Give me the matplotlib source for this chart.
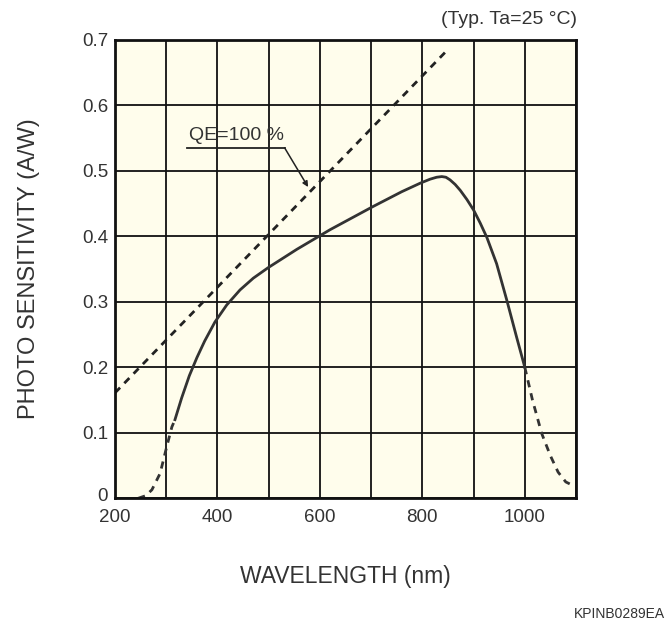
import numpy as np
import matplotlib.pyplot as plt
import matplotlib.transforms as mtransforms

plt.rcParams['font.family'] = ['Liberation Sans', 'DejaVu Sans']

# QE = 100 % reference line
qe_wl = [200, 845]
qe_sens = [0.161, 0.681]

# photo sensitivity, measured (solid) part
solid_wl = [317, 330, 345, 360, 375, 395, 418, 444, 470, 499, 555, 620, 703, 760, 796, 815, 828, 838, 846, 854, 864, 874, 887, 900, 913, 926, 945, 965, 984, 1000]
solid_sens = [0.120, 0.153, 0.187, 0.215, 0.240, 0.269, 0.295, 0.318, 0.336, 0.352, 0.380, 0.410, 0.445, 0.468, 0.481, 0.487, 0.490, 0.491, 0.490, 0.486, 0.479, 0.470, 0.456, 0.440, 0.420, 0.398, 0.358, 0.302, 0.246, 0.200]

# extrapolated (dashed) tails
low_wl = [245, 260, 272, 288, 301, 311, 317]
low_sens = [0.0, 0.004, 0.013, 0.038, 0.079, 0.109, 0.120]
high_wl = [1000, 1015, 1033, 1050, 1065, 1080, 1098]
high_sens = [0.200, 0.150, 0.099, 0.065, 0.040, 0.025, 0.018]

xticks = [200, 400, 600, 800, 1000]
yticks = [0, 0.1, 0.2, 0.3, 0.4, 0.5, 0.6, 0.7]
ytick_labels = ['0', '0.1', '0.2', '0.3', '0.4', '0.5', '0.6', '0.7']

fig = plt.figure(figsize=(6.68, 6.25), dpi=100)
ax = fig.add_axes([0.1722, 0.2027, 0.6901, 0.7339])
ax.set_facecolor('#fffdec')

ax.set_xlim(200, 1100)
ax.set_ylim(0, 0.7)
ax.set_xticks(np.arange(200, 1101, 100))
ax.set_xticklabels([str(t) if t in xticks else '' for t in range(200, 1101, 100)])
ax.set_yticks(yticks)
ax.set_yticklabels(ytick_labels)
ax.grid(True, color='#111111', linewidth=1.3)
ax.set_axisbelow(True)
ax.tick_params(length=0, labelsize=13.5, colors='#333333')
ax.tick_params(axis='x', pad=8)
ax.tick_params(axis='y', pad=5)
for s in ax.spines.values():
    s.set_linewidth(2)
    s.set_color('#111111')

# lift the "0" label a little so it clears "200", as in the original
zero_lbl = ax.get_yticklabels()[0]
zero_lbl.set_transform(zero_lbl.get_transform() +
                       mtransforms.ScaledTranslation(0, 4 / 100, fig.dpi_scale_trans))

dash = (0, (2.6, 2.2))
ax.plot(qe_wl, qe_sens, color='#222222', lw=2, linestyle=dash)
ax.plot(solid_wl, solid_sens, color='#333333', lw=2)
ax.plot(low_wl, low_sens, color='#333333', lw=2, linestyle=dash)
ax.plot(high_wl, high_sens, color='#333333', lw=2, linestyle=dash)

# QE label with underline and leader
ax.text(438, 0.541, 'QE=100 %', ha='center', va='bottom', fontsize=14, color='#333333')
ax.plot([340, 531], [0.535, 0.535], color='#222222', lw=1.3)
ax.annotate('', xy=(577, 0.475), xytext=(531, 0.535),
            arrowprops=dict(arrowstyle='-|>', color='#222222', lw=1.1,
                            mutation_scale=8, shrinkA=0, shrinkB=0))

ax.text(1.003, 1.025, '(Typ. Ta=25 °C)', transform=ax.transAxes, ha='right', va='bottom',
        fontsize=14, color='#333333')
ax.set_xlabel('WAVELENGTH (nm)', fontsize=16.5, color='#333333', labelpad=28)
ax.set_ylabel('PHOTO SENSITIVITY (A/W)', fontsize=17, color='#333333', labelpad=30)
fig.text(0.996, 0.0176, 'KPINB0289EA', ha='right', va='center', fontsize=10,
         color='#333333')

fig.savefig('out.png', dpi=100, facecolor='white')
